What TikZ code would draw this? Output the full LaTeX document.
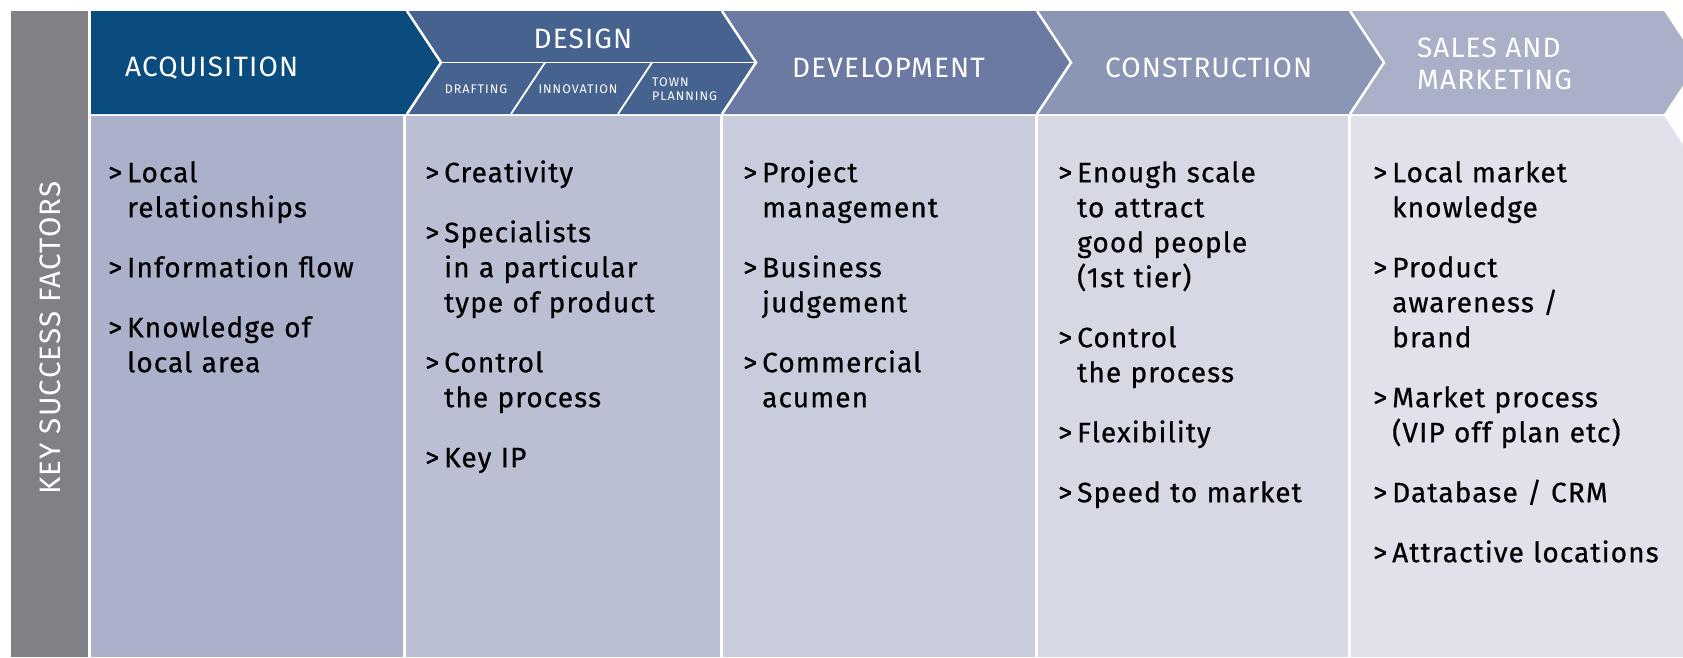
\documentclass[tikz,border=0pt]{standalone}
\usepackage{fontspec}
\setmainfont{Fira Sans}[LetterSpace=4]
\newfontfamily\tabfont{Fira Sans}[LetterSpace=8]
\newfontfamily\itemfont{Fira Sans}[LetterSpace=4, FakeBold=0.6]

\definecolor{barGrey}{HTML}{808186}
\definecolor{acqHead}{HTML}{0A4C7E}
\definecolor{desHead}{HTML}{46638F}
\definecolor{devHead}{HTML}{6C7AA3}
\definecolor{conHead}{HTML}{8B96B5}
\definecolor{salHead}{HTML}{ABB0C9}
\definecolor{acqBody}{HTML}{ABB0CB}
\definecolor{desBody}{HTML}{BABFD4}
\definecolor{devBody}{HTML}{C9CCDD}
\definecolor{conBody}{HTML}{D6D8E4}
\definecolor{salBody}{HTML}{E0E1EA}

% one bullet point with hanging indent
\newcommand{\ksfitem}[1]{\hangindent=19pt\hangafter=1\noindent\makebox[19pt][l]{\rule{0pt}{24pt}>}#1\par}

\begin{document}
\begin{tikzpicture}[
    x=1pt, y=-1pt,
    phase/.style={text=white, inner sep=0pt, font=\fontsize{28}{32}\selectfont, align=left},
    subtab/.style={text=white, inner sep=0pt, font=\tabfont\fontsize{12.5}{14}\selectfont, align=left},
    factors/.style={inner sep=0pt, text width=300pt, align=left, anchor=north west,
        font=\itemfont\fontsize{28}{35}\selectfont, execute at begin node={\setlength{\parskip}{25pt}}},
    sep/.style={white, line width=2.5pt},
    thinsep/.style={white, line width=1.8pt}
]
    \useasboundingbox (0,0) rectangle (1683,657);

    % Side bar
    \fill[barGrey] (11,11) rectangle (88,657);
    \node[rotate=90, text=white, inner sep=0pt, font=\fontsize{29.5}{30}\selectfont] (ksf) at (50,338) {KEY SUCCESS FACTORS};

    % Column bodies
    \fill[acqBody] (91,116) rectangle (403,657);
    \fill[desBody] (406,116) rectangle (720,657);
    \fill[devBody] (723,116) rectangle (1035,657);
    \fill[conBody] (1038,116) rectangle (1348,657);
    \begin{scope}
        \clip (0,0) rectangle (1683,657);
        \fill[salBody] (1351,116) -- (1664,116) -- (1698,167.5) -- (1698,657) -- (1351,657) -- cycle;

        % Phase chevrons
        \fill[acqHead] (91,11) -- (407,11) -- (441,62.5) -- (407,114) -- (91,114) -- cycle;
        \fill[desHead] (407,11) -- (722,11) -- (756,62.5) -- (722,114) -- (407,114) -- (441,62.5) -- cycle;
        \fill[devHead] (722,11) -- (1037,11) -- (1071,62.5) -- (1037,114) -- (722,114) -- (756,62.5) -- cycle;
        \fill[conHead] (1037,11) -- (1350,11) -- (1384,62.5) -- (1350,114) -- (1037,114) -- (1071,62.5) -- cycle;
        \fill[salHead] (1350,11) -- (1664,11) -- (1698,62.5) -- (1664,114) -- (1350,114) -- (1384,62.5) -- cycle;

        % White edges between chevrons
        \draw[sep] (407,11) -- (441,62.5) -- (407,114);
        \draw[sep] (722,11) -- (756,62.5) -- (722,114);
        \draw[sep] (1037,11) -- (1071,62.5) -- (1037,114);
        \draw[sep] (1350,11) -- (1384,62.5) -- (1350,114);
    \end{scope}

    % Design sub-tabs
    \draw[thinsep] (441,62.5) -- (756,62.5);
    \draw[thinsep] (545,62.5) -- (511,114);
    \draw[thinsep] (652,62.5) -- (618,114);

    % Phase titles
    \node[phase, anchor=base west] (acq) at (125,76) {ACQUISITION};
    \node[phase, anchor=base] (des) at (583,48) {DESIGN};
    \node[phase, anchor=base west] (dev) at (792,77) {DEVELOPMENT};
    \node[phase, anchor=base west] (con) at (1105,77) {CONSTRUCTION};
    \node[phase, anchor=north west] (sal) at (1417,38) {SALES AND\\MARKETING};

    \node[subtab, anchor=base] (draft) at (476,93) {DRAFTING};
    \node[subtab, anchor=base] (innov) at (578,93) {INNOVATION};
    \node[subtab, anchor=north west] (town) at (652,77.5) {TOWN\\PLANNING};

    % Success factors per phase
    \node[factors] (acqf) at (108,158) {%
        \ksfitem{Local\newline relationships}
        \ksfitem{Information flow}
        \ksfitem{Knowledge of\newline local area}};
    \node[factors] (desf) at (425,158) {%
        \ksfitem{Creativity}
        \ksfitem{Specialists\newline in a particular\newline type of product}
        \ksfitem{Control\newline the process}
        \ksfitem{Key IP}};
    \node[factors] (devf) at (743,158) {%
        \ksfitem{Project\newline management}
        \ksfitem{Business\newline judgement}
        \ksfitem{Commercial\newline acumen}};
    \node[factors] (conf) at (1058,158) {%
        \ksfitem{Enough scale\newline to attract\newline good people\newline (1st tier)}
        \ksfitem{Control\newline the process}
        \ksfitem{Flexibility}
        \ksfitem{Speed to market}};
    \node[factors] (salf) at (1373,158) {%
        \ksfitem{Local market\newline knowledge}
        \ksfitem{Product\newline awareness /\newline brand}
        \ksfitem{Market process\newline (VIP off plan etc)}
        \ksfitem{Database / CRM}
        \ksfitem{Attractive locations}};
\end{tikzpicture}
\end{document}
